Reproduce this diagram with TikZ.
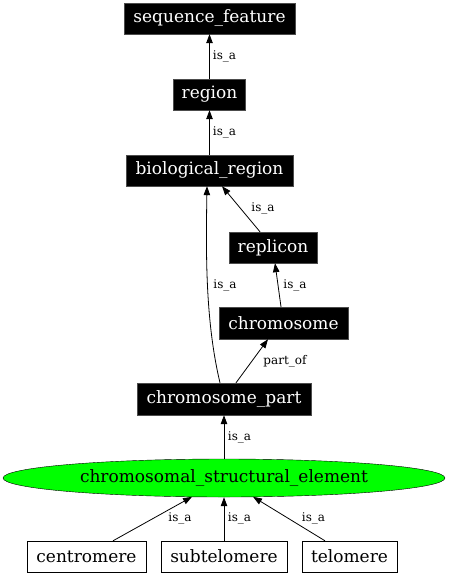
\documentclass[tikz,border=0pt]{standalone}
\usepackage{fontspec}
\setmainfont{DejaVu Serif}
\usetikzlibrary{arrows.meta,shapes.geometric}
\begin{document}
\begin{tikzpicture}[x=1pt,y=-1pt,
  blk/.style={draw=black!70,fill=black,text=white,inner sep=0pt,font=\fontsize{17}{19}\selectfont},
  wht/.style={draw=black,fill=white,text=black,inner sep=0pt,font=\fontsize{17}{19}\selectfont},
  lbl/.style={inner sep=0pt,font=\fontsize{12}{14}\selectfont},
  arr/.style={-{Triangle[length=9pt,width=6.5pt]},line width=0.8pt}]
\useasboundingbox (0,0) rectangle (448,576);
\node[blk,minimum width=171pt,minimum height=31pt] (seqf) at (209.5,18.5) {sequence\_feature};
\node[blk,minimum width=72pt,minimum height=31pt] (region) at (209.5,94.5) {region};
\node[blk,minimum width=167pt,minimum height=31pt] (bio) at (209.5,170.5) {biological\_region};
\node[blk,minimum width=88pt,minimum height=31pt] (replicon) at (273,247.5) {replicon};
\node[blk,minimum width=129pt,minimum height=32pt] (chrom) at (283.5,323) {chromosome};
\node[blk,minimum width=174pt,minimum height=32pt] (cpart) at (224,399) {chromosome\_part};
\node[ellipse,draw=black,fill=green,inner sep=0pt,minimum width=442pt,minimum height=38pt,font=\fontsize{17}{19}\selectfont] (ell) at (224,478) {chromosomal\_structural\_element};
\node[wht,minimum width=119pt,minimum height=31pt] (centro) at (86.5,556.5) {centromere};
\node[wht,minimum width=126pt,minimum height=31pt] (subtel) at (224,556.5) {subtelomere};
\node[wht,minimum width=95pt,minimum height=31pt] (telo) at (349.5,556.5) {telomere};

\draw[arr] (region.north) -- (seqf.south);
\draw[arr] (bio.north) -- (region.south);
\draw[arr] ([xshift=-13pt]replicon.north) -- ([xshift=12.5pt]bio.south);
\draw[arr] ([xshift=-4pt]cpart.north) .. controls (205,320) and (206,250) .. ([xshift=-2.5pt]bio.south);
\draw[arr] ([xshift=-2.5pt]chrom.north) -- ([xshift=2pt]replicon.south);
\draw[arr] ([xshift=12pt]cpart.north) -- ([xshift=-15.5pt]chrom.south);
\draw[arr] (ell.north) -- (cpart.south);
\draw[arr] ([xshift=26.5pt]centro.north) -- ([xshift=-32pt,yshift=-18.8pt]ell.center);
\draw[arr] (subtel.north) -- (ell.south);
\draw[arr] ([xshift=-24.5pt]telo.north) -- ([xshift=29pt,yshift=-18.8pt]ell.center);

\node[lbl] (l1) at (224.5,56) {is\_a};
\node[lbl] (l2) at (224.5,132) {is\_a};
\node[lbl] (l3) at (263,208) {is\_a};
\node[lbl] (l4) at (225,285) {is\_a};
\node[lbl] (l5) at (295,285) {is\_a};
\node[lbl] (l6) at (285,361) {part\_of};
\node[lbl] (l7) at (239.5,437) {is\_a};
\node[lbl] (l8) at (180,518) {is\_a};
\node[lbl] (l9) at (239.5,518) {is\_a};
\node[lbl] (l10) at (313.5,518) {is\_a};
\end{tikzpicture}
\end{document}
